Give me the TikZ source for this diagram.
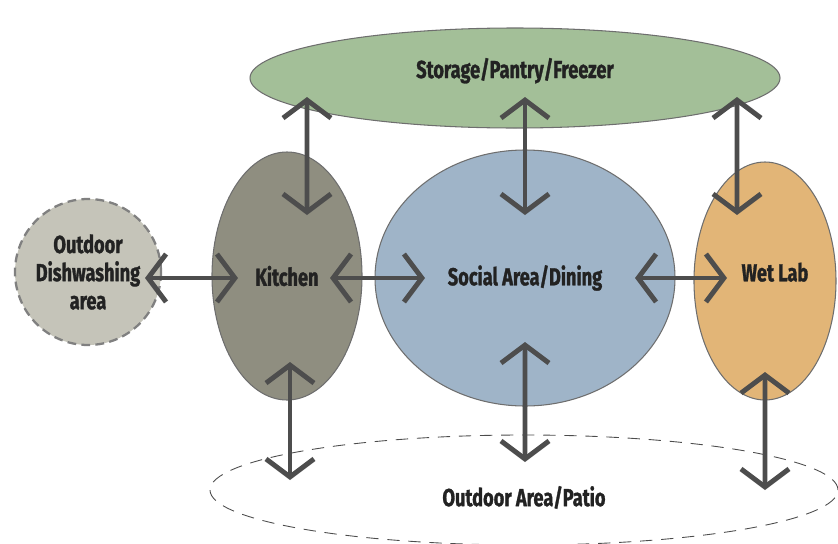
\documentclass[tikz,border=0pt]{standalone}
\usepackage{fontspec}
\setmainfont{Fira Sans}[BoldFeatures={FakeStretch=0.74, FakeBold=1.2}]
\usepackage{tikz}
\usetikzlibrary{calc}
\usetikzlibrary{arrows.meta, shapes.geometric}

\definecolor{storagegreen}{HTML}{A3BF98}
\definecolor{kitchengray}{HTML}{8F8E80}
\definecolor{socialblue}{HTML}{9FB4C8}
\definecolor{wetorange}{HTML}{E2B577}
\definecolor{dishgray}{HTML}{C5C4B9}
\definecolor{edgegray}{HTML}{6E6E6E}
\definecolor{arrowgray}{HTML}{4D4D4D}
\definecolor{labelink}{HTML}{222222}

\begin{document}
\begin{tikzpicture}[
  area/.style={draw=edgegray, line width=0.6pt, ellipse, inner sep=0pt, align=center, font=\fontsize{14}{16}\selectfont\bfseries, text=labelink},
  dbl/.style={{Straight Barb[length=3.6mm,width=9.6mm]}-{Straight Barb[length=3.6mm,width=9.6mm]}, line width=2.8pt, draw=arrowgray}
]
\useasboundingbox (0,0) rectangle (16.76,-10.88);

\node[area, fill=storagegreen, minimum width=10.6cm, minimum height=2cm, text depth=0.4cm] (storage) at (10.30,-1.56) {Storage/Pantry/Freezer};
\node[area, fill=kitchengray, minimum width=3cm, minimum height=4.96cm] (kitchen) at (5.74,-5.52) {Kitchen};
\node[area, fill=socialblue, minimum width=6cm, minimum height=5.12cm] (social) at (10.50,-5.56) {Social Area/Dining};
\node[area, fill=wetorange, minimum width=2.84cm, minimum height=4.76cm, text depth=0.36cm] (wetlab) at (15.30,-5.62) {\hspace*{4mm}Wet Lab};
\node[area, circle, fill=dishgray, draw=gray, dashed, dash pattern=on 5pt off 3pt, line width=1.3pt, minimum size=2.92cm] (dish) at (1.76,-5.44) {Outdoor\\Dishwashing\\area};
\node[area, draw=black!70, dashed, dash pattern=on 7pt off 5pt, line width=0.5pt, minimum width=12.56cm, minimum height=2.2cm, text height=0.7cm] (patio) at (10.48,-9.80) {Outdoor Area/Patio};

\draw[dbl] ([shift={(1.14,-0.12)}]dish.center) -- ([shift={(-0.98,-0.04)}]kitchen.center);
\draw[dbl] ([shift={(0.86,-0.04)}]kitchen.center) -- ([shift={(-2.00,0)}]social.center);
\draw[dbl] ([shift={(2.20,0)}]social.center) -- ([shift={(-0.76,0.06)}]wetlab.center);

\draw[dbl] ([shift={(-4.16,-0.38)}]storage.center) -- ([shift={(0.40,1.22)}]kitchen.center);
\draw[dbl] ([shift={(0.20,-0.38)}]storage.center) -- ([shift={(0,1.26)}]social.center);
\draw[dbl] ([shift={(4.44,-0.38)}]storage.center) -- ([shift={(-0.56,1.32)}]wetlab.center);

\draw[dbl] ([shift={(0.06,-1.72)}]kitchen.center) -- ([shift={(-4.68,0.20)}]patio.center);
\draw[dbl] ([shift={(0,-1.28)}]social.center) -- ([shift={(0.02,0.56)}]patio.center);
\draw[dbl] ([shift={(0,-1.82)}]wetlab.center) -- ([shift={(4.82,0)}]patio.center);

\end{tikzpicture}
\end{document}
